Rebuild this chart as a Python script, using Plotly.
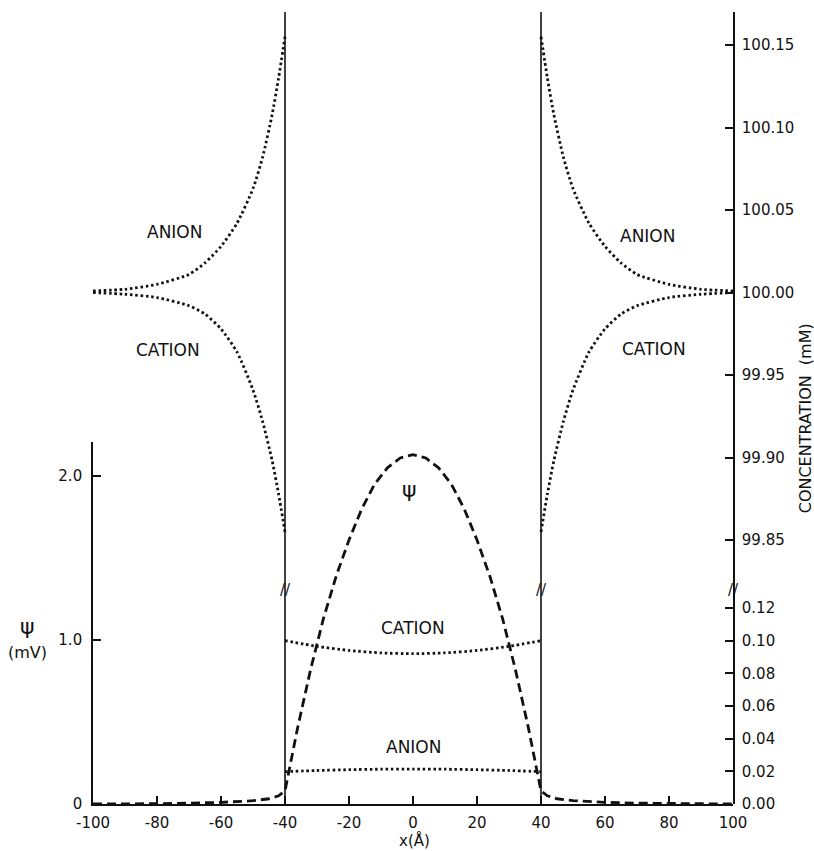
import plotly.graph_objects as go

# ---------------- data ----------------
x_ticks = [-100, -80, -60, -40, -20, 0, 20, 40, 60, 80, 100]
x_tick_text = ["-100", "-80", "-60", "-40", "-20", "0", "20", "40", "60", "80", "100"]

psi_ticks = [0, 1, 2]
psi_tick_text = ["0", "1.0", "2.0"]

conc_low_ticks = [0.00, 0.02, 0.04, 0.06, 0.08, 0.10, 0.12]
conc_low_text = ["0.00", "0.02", "0.04", "0.06", "0.08", "0.10", "0.12"]

conc_high_ticks = [99.85, 99.90, 99.95, 100.00, 100.05, 100.10, 100.15]
conc_high_text = ["99.85", "99.90", "99.95", "100.00", "100.05", "100.10", "100.15"]

membrane_x = [-40, 40]

# potential psi (mV)
psi_x = [-100, -90, -80, -70, -60, -50, -45, -42, -40,
         -36, -32, -28, -24, -20, -16, -12, -8, -4, 0,
         4, 8, 12, 16, 20, 24, 28, 32, 36,
         40, 42, 45, 50, 60, 70, 80, 90, 100]
psi_y = [0.0, 0.0, 0.002, 0.005, 0.010, 0.020, 0.032, 0.050, 0.08,
         0.47, 0.82, 1.13, 1.39, 1.61, 1.80, 1.95, 2.05, 2.11, 2.13,
         2.11, 2.05, 1.95, 1.80, 1.61, 1.39, 1.13, 0.82, 0.47,
         0.08, 0.050, 0.032, 0.020, 0.010, 0.005, 0.002, 0.0, 0.0]

# outer baths (mM)
out_left_x = [-100, -90, -80, -70, -65, -60, -55, -50, -47, -44, -42, -40]
anion_left = [100.001, 100.002, 100.005, 100.011, 100.018, 100.028,
              100.042, 100.063, 100.082, 100.108, 100.130, 100.155]
cation_left = [100.000, 99.999, 99.997, 99.992, 99.987, 99.978,
               99.964, 99.941, 99.922, 99.898, 99.878, 99.855]

out_right_x = [40, 42, 44, 47, 50, 55, 60, 65, 70, 80, 90, 100]
anion_right = [100.155, 100.130, 100.108, 100.082, 100.063, 100.042,
               100.028, 100.018, 100.011, 100.005, 100.002, 100.001]
cation_right = [99.855, 99.878, 99.898, 99.922, 99.941, 99.964,
                99.978, 99.987, 99.992, 99.997, 99.999, 100.000]

# inside membrane (mM)
in_x = [-40, -30, -20, -10, 0, 10, 20, 30, 40]
cation_in = [0.100, 0.0965, 0.094, 0.0925, 0.092, 0.0925, 0.094, 0.0965, 0.100]
anion_in = [0.0198, 0.0205, 0.0210, 0.0213, 0.0214, 0.0213, 0.0210, 0.0205, 0.0198]

# ---------------- styling ----------------
FONT = "DejaVu Sans"
BLACK = "#111111"
DOT = dict(color=BLACK, width=2.8, dash="2.5px,2.8px", shape="spline", smoothing=0.6)
BREAK = 0.270  # paper y of axis break

fig = go.Figure()

fig.add_trace(go.Scatter(x=psi_x, y=psi_y, mode="lines", xaxis="x", yaxis="y",
                         line=dict(color=BLACK, width=2.8, dash="9px,5px"),
                         showlegend=False, hoverinfo="skip"))

for xs, ys in [(out_left_x, anion_left), (out_left_x, cation_left),
               (out_right_x, anion_right), (out_right_x, cation_right)]:
    fig.add_trace(go.Scatter(x=xs, y=ys, mode="lines", xaxis="x", yaxis="y3",
                             line=DOT, showlegend=False, hoverinfo="skip"))

for ys in [cation_in, anion_in]:
    fig.add_trace(go.Scatter(x=in_x, y=ys, mode="lines", xaxis="x", yaxis="y2",
                             line=DOT, showlegend=False, hoverinfo="skip"))

# membrane boundaries
for mx in membrane_x:
    fig.add_shape(type="line", xref="x", yref="paper", x0=mx, x1=mx, y0=0, y1=1,
                  line=dict(color=BLACK, width=1.6))

tickfont = dict(family=FONT, size=15, color=BLACK)
axis_common = dict(showgrid=False, zeroline=False, showline=True, linecolor=BLACK,
                   linewidth=1.6, ticks="inside", ticklen=8, tickwidth=1.5,
                   tickcolor=BLACK, tickfont=tickfont, tickmode="array")

fig.update_layout(
    width=814, height=851,
    margin=dict(l=93, r=81, t=12, b=47),
    paper_bgcolor="white", plot_bgcolor="rgba(0,0,0,0)",
    xaxis=dict(range=[-100, 100], tickvals=x_ticks, ticktext=x_tick_text,
               anchor="y", ticklabelstandoff=4, **axis_common),
    yaxis=dict(domain=[0, 0.457], range=[0, 2.207], tickvals=psi_ticks,
               ticktext=psi_tick_text, anchor="x", side="left",
               ticklabelstandoff=6, **axis_common),
    yaxis2=dict(domain=[0, BREAK], range=[0, 0.1309], tickvals=conc_low_ticks,
                ticktext=conc_low_text, anchor="x", side="right",
                ticklabelstandoff=4, **axis_common),
    yaxis3=dict(domain=[BREAK, 1], range=[99.8197, 100.170], tickvals=conc_high_ticks,
                ticktext=conc_high_text, anchor="x", side="right",
                ticklabelstandoff=4, **axis_common),
)

lab = dict(family=FONT, size=17, color=BLACK)
annots = [
    dict(text="ANION", x=-74.4, y=100.037, xref="x", yref="y3", font=lab),
    dict(text="CATION", x=-76.6, y=99.965, xref="x", yref="y3", font=lab),
    dict(text="ANION", x=73.4, y=100.034, xref="x", yref="y3", font=lab),
    dict(text="CATION", x=75.3, y=99.966, xref="x", yref="y3", font=lab),
    dict(text="CATION", x=0.1, y=0.1076, xref="x", yref="y2", font=lab),
    dict(text="ANION", x=0.0, y=0.0349, xref="x", yref="y2", font=lab),
    dict(text="ψ", x=-1.0, y=1.915, xref="x", yref="y", font=dict(family=FONT, size=22, color=BLACK)),
    dict(text="ψ", x=-0.1016, y=0.224, xref="paper", yref="paper",
         font=dict(family=FONT, size=22, color=BLACK)),
    dict(text="(mV)", x=-0.1016, y=0.1907, xref="paper", yref="paper",
         font=dict(family=FONT, size=16, color=BLACK)),
    dict(text="CONCENTRATION  (mM)", x=1.1125, y=0.487, xref="paper", yref="paper",
         textangle=-90, font=dict(family=FONT, size=16, color=BLACK)),
    dict(text="x(Å)", x=0.503, y=-0.0455, xref="paper", yref="paper",
         font=dict(family=FONT, size=15, color=BLACK)),
]
for mx in membrane_x:
    annots.append(dict(text="//", x=mx, y=BREAK, xref="x", yref="paper",
                       font=dict(family=FONT, size=15, color=BLACK)))
annots.append(dict(text="//", x=1.0, y=BREAK, xref="paper", yref="paper",
                   font=dict(family=FONT, size=15, color=BLACK)))
for a in annots:
    a.update(showarrow=False, xanchor="center", yanchor="middle")
fig.update_layout(annotations=annots)

fig.write_html("out.html")
